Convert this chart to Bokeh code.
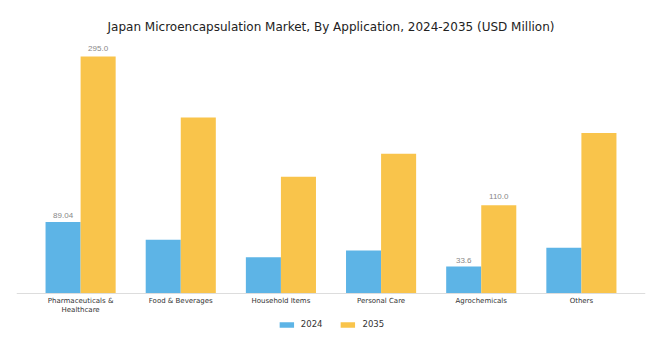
from bokeh.plotting import figure
from bokeh.models import ColumnDataSource, FixedTicker, Legend, LegendItem, Range1d
from bokeh.embed import file_html
from bokeh.resources import INLINE

categories = ["Pharmaceuticals &\nHealthcare", "Food & Beverages", "Household Items",
              "Personal Care", "Agrochemicals", "Others"]
values_2024 = [89.04, 67.0, 45.0, 53.5, 33.6, 57.0]
values_2035 = [295.0, 219.0, 145.5, 174.0, 110.0, 200.0]
label_2024 = ["89.04", "", "", "", "33.6", ""]
label_2035 = ["295.0", "", "", "", "110.0", ""]

BLUE = "#5DB4E6"
GOLD = "#F9C44B"
FONT = "DejaVu Sans"

w = 0.35
xs = list(range(len(categories)))
src = ColumnDataSource(dict(x24=[i - w / 2 for i in xs], x35=[i + w / 2 for i in xs],
                            v24=values_2024, v35=values_2035,
                            l24=label_2024, l35=label_2035))

p = figure(width=670, height=352, frame_width=629, frame_height=295,
           output_backend="svg", toolbar_location=None,
           x_range=Range1d(-0.64, 5.64), y_range=Range1d(-47.3, 320),
           min_border_left=16, min_border_right=25, min_border_top=36,
           min_border_bottom=0)

p.title.text = "Japan Microencapsulation Market, By Application, 2024-2035 (USD Million)"
p.title.align = "center"
p.title.text_font = FONT
p.title.text_font_size = "12px"
p.title.text_font_style = "normal"
p.title.text_color = "#222222"
p.title.standoff = 6

r24 = p.vbar(x="x24", top="v24", bottom=0, width=w, source=src,
             fill_color=BLUE, line_color=None)
r35 = p.vbar(x="x35", top="v35", bottom=0, width=w, source=src,
             fill_color=GOLD, line_color=None)

p.text(x="x24", y="v24", text="l24", source=src,
       text_align="center", text_baseline="bottom", y_offset=-4,
       text_font_size="8px", text_color="#888888")
p.text(x="x35", y="v35", text="l35", source=src,
       text_align="center", text_baseline="bottom", y_offset=-6,
       text_font_size="8px", text_color="#888888")

p.xaxis.fixed_location = 0
p.xaxis.ticker = FixedTicker(ticks=xs)
p.xaxis.major_label_overrides = {i: c for i, c in enumerate(categories)}
p.xaxis.major_label_text_font_size = "7px"
p.xaxis.major_label_text_font = FONT
p.xaxis.major_label_text_color = "#333333"
p.xaxis.major_tick_line_color = None
p.xaxis.major_tick_out = 0
p.xaxis.major_tick_in = 0
p.xaxis.minor_tick_line_color = None
p.xaxis.axis_line_color = "#DDDDDD"
p.xaxis.major_label_standoff = 3
p.yaxis.visible = False
p.xgrid.grid_line_color = None
p.ygrid.grid_line_color = None
p.outline_line_color = None

legend = Legend(items=[LegendItem(label="2024", renderers=[r24]),
                       LegendItem(label="2035", renderers=[r35])],
                orientation="horizontal", location="bottom_center",
                glyph_width=18, glyph_height=7, label_text_font_size="8.5px",
                label_text_font=FONT, label_text_color="#333333",
                label_standoff=6, label_height=10,
                border_line_color=None, background_fill_alpha=0,
                spacing=16, padding=2, margin=2)
p.add_layout(legend, "center")

open("out.html", "w").write(file_html(p, INLINE))
